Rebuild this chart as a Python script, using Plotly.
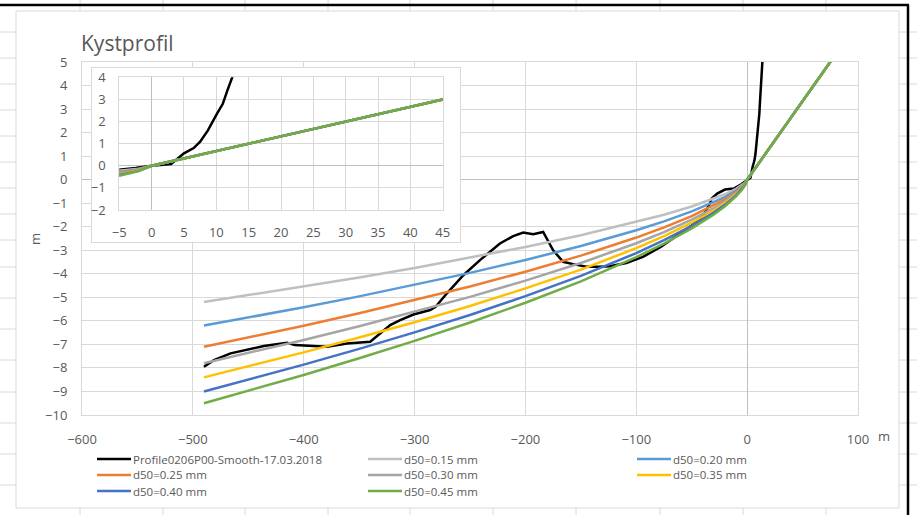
import plotly.graph_objects as go

# ---------------- data ----------------
profile_x = [-490, -481, -466, -451, -436, -415, -408, -379, -361, -340, -331, -322, -313,
             -301, -286, -281, -271, -256, -241, -232, -223, -211, -202, -193, -184, -175,
             -166, -157, -145, -133, -124, -109, -94, -78, -65, -50, -40, -34, -32, -27,
             -20, -12, -5, -2.5, 0, 3, 5, 6.5, 7.5, 8.7, 10, 11, 11.7, 12.5, 13.8, 15]
profile_y = [-7.95, -7.67, -7.38, -7.21, -7.07, -6.93, -7.03, -7.10, -6.96, -6.89, -6.55, -6.18, -5.97,
             -5.73, -5.54, -5.40, -4.84, -4.06, -3.42, -3.07, -2.71, -2.40, -2.25, -2.32, -2.22, -3.00,
             -3.49, -3.59, -3.70, -3.70, -3.68, -3.54, -3.28, -2.86, -2.45, -1.95, -1.55, -1.05, -0.80, -0.59,
             -0.42, -0.38, -0.19, -0.10, 0.00, 0.08, 0.56, 0.80, 1.09, 1.60, 2.30, 2.80, 3.40, 4.00, 5.00, 6.00]

d50_x = [-490, -450, -400, -350, -300, -250, -200, -150, -100, -75, -50, -30, -20, -10, -5, -2, 0,
         5, 10, 20, 45, 75, 100]
d50_015 = [-5.20, -4.91, -4.54, -4.16, -3.75, -3.32, -2.86, -2.36, -1.80, -1.49, -1.14, -0.81, -0.62, -0.39, -0.24, -0.13, 0,
           0.33, 0.67, 1.33, 3.00, 5.00, 6.67]
d50_020 = [-6.20, -5.86, -5.42, -4.96, -4.47, -3.96, -3.41, -2.82, -2.15, -1.77, -1.35, -0.96, -0.74, -0.46, -0.29, -0.16, 0,
           0.33, 0.67, 1.33, 3.00, 5.00, 6.67]
d50_025 = [-7.10, -6.71, -6.21, -5.68, -5.12, -4.54, -3.91, -3.23, -2.46, -2.03, -1.55, -1.10, -0.84, -0.53, -0.33, -0.18, 0,
           0.33, 0.67, 1.33, 3.00, 5.00, 6.67]
d50_030 = [-7.80, -7.37, -6.81, -6.23, -5.62, -4.98, -4.29, -3.54, -2.70, -2.23, -1.70, -1.21, -0.92, -0.58, -0.37, -0.20, 0,
           0.33, 0.67, 1.33, 3.00, 5.00, 6.67]
d50_035 = [-8.40, -7.94, -7.34, -6.71, -6.06, -5.37, -4.62, -3.82, -2.91, -2.40, -1.83, -1.30, -1.00, -0.63, -0.39, -0.21, 0,
           0.33, 0.67, 1.33, 3.00, 5.00, 6.67]
d50_040 = [-9.00, -8.50, -7.86, -7.19, -6.49, -5.75, -4.95, -4.09, -3.12, -2.57, -1.96, -1.40, -1.07, -0.67, -0.42, -0.23, 0,
           0.33, 0.67, 1.33, 3.00, 5.00, 6.67]
d50_045 = [-9.50, -8.98, -8.30, -7.59, -6.85, -6.07, -5.23, -4.32, -3.29, -2.72, -2.07, -1.48, -1.13, -0.71, -0.45, -0.24, 0,
           0.33, 0.67, 1.33, 3.00, 5.00, 6.67]

series_names = ["Profile0206P00-Smooth-17.03.2018", "d50=0.15 mm", "d50=0.20 mm", "d50=0.25 mm",
                "d50=0.30 mm", "d50=0.35 mm", "d50=0.40 mm", "d50=0.45 mm"]
series_colors = ["#000000", "#BFBFBF", "#5B9BD5", "#ED7D31", "#A5A5A5", "#FFC000", "#4472C4", "#70AD47"]
series_x = [profile_x] + [d50_x] * 7
series_y = [profile_y, d50_015, d50_020, d50_025, d50_030, d50_035, d50_040, d50_045]

title_text = "Kystprofil"
axis_unit = "m"

# ---------------- layout helpers ----------------
W, H = 917, 515
ML, MR, MT, MB = 82, 59, 62, 100
PW, PH = W - ML - MR, H - MT - MB
FONT = "Open Sans, sans-serif"
TXT = "#595959"
GRID = "#d9d9d9"


def px(x):
    return (x - ML) / PW


def py(y):
    return (H - MB - y) / PH


fig = go.Figure()

for name, color, xs, ys in zip(series_names, series_colors, series_x, series_y):
    fig.add_trace(go.Scatter(x=xs, y=ys, mode="lines", name=name, showlegend=False,
                             line=dict(color=color, width=2.5), xaxis="x", yaxis="y"))
# inset frame subplot (empty)
fig.add_trace(go.Scatter(x=[], y=[], xaxis="x2", yaxis="y2", showlegend=False))
for name, color, xs, ys in zip(series_names, series_colors, series_x, series_y):
    fig.add_trace(go.Scatter(x=xs, y=ys, mode="lines", name=name, showlegend=False,
                             line=dict(color=color, width=2.5), xaxis="x3", yaxis="y3"))

tickfont = dict(family=FONT, size=13, color=TXT)
common = dict(showgrid=True, gridcolor=GRID, gridwidth=1, zeroline=True, zerolinecolor="#bfbfbf",
              zerolinewidth=1, showline=True, mirror=True, linecolor=GRID, linewidth=1,
              ticks="", tickfont=tickfont, fixedrange=True)

shapes = []
# spreadsheet grid
for gx in [80, 163, 245, 328, 410, 493, 576, 660, 743, 826]:
    shapes.append(dict(type="line", xref="paper", yref="paper", x0=px(gx), x1=px(gx), y0=py(0), y1=py(H),
                       line=dict(color="#dadada", width=1), layer="below"))
for gy in [32, 58, 84, 110, 136, 162, 188, 214, 240, 267, 298, 329, 360, 392, 423, 454, 485]:
    shapes.append(dict(type="line", xref="paper", yref="paper", x0=px(0), x1=px(W), y0=py(gy), y1=py(gy),
                       line=dict(color="#dadada", width=1), layer="below"))
# chart area
shapes.append(dict(type="rect", xref="paper", yref="paper", x0=px(16), x1=px(899), y0=py(508), y1=py(11),
                   fillcolor="white", line=dict(color=GRID, width=1), layer="below"))
# black selection borders
shapes.append(dict(type="line", xref="paper", yref="paper", x0=px(0), x1=px(909), y0=py(5), y1=py(5),
                   line=dict(color="black", width=2.5), layer="above"))
shapes.append(dict(type="line", xref="paper", yref="paper", x0=px(908), x1=px(908), y0=py(5), y1=py(H),
                   line=dict(color="black", width=2.5), layer="above"))

annotations = [
    dict(text=title_text, xref="paper", yref="paper", x=px(79), y=py(43), xanchor="left", yanchor="middle",
         showarrow=False, font=dict(family=FONT, size=21, color=TXT)),
    dict(text=axis_unit, xref="paper", yref="paper", x=px(35), y=py(239), xanchor="center", yanchor="middle",
         textangle=-90, showarrow=False, font=dict(family=FONT, size=13, color=TXT)),
    dict(text=axis_unit, xref="paper", yref="paper", x=px(884), y=py(436), xanchor="center", yanchor="middle",
         showarrow=False, font=dict(family=FONT, size=13, color=TXT)),
]

# manual legend (3 columns)
leg_cols = [97, 368, 637]
leg_rows = [459, 475, 491]
for i, (name, color) in enumerate(zip(series_names, series_colors)):
    cx = leg_cols[i % 3]
    ry = leg_rows[i // 3]
    shapes.append(dict(type="line", xref="paper", yref="paper", x0=px(cx), x1=px(cx + 34), y0=py(ry), y1=py(ry),
                       line=dict(color=color, width=2.5), layer="above"))
    annotations.append(dict(text=name, xref="paper", yref="paper", x=px(cx + 35), y=py(ry), xanchor="left",
                            yanchor="middle", showarrow=False, borderpad=0,
                            font=dict(family=FONT, size=11.5, color=TXT)))

fig.update_layout(
    width=W, height=H, autosize=False,
    margin=dict(l=ML, r=MR, t=MT, b=MB, pad=0),
    paper_bgcolor="white", plot_bgcolor="white",
    showlegend=False,
    xaxis=dict(range=[-600, 100], dtick=100, tick0=0, domain=[0, 1], anchor="y", ticklabelstandoff=12, **common),
    yaxis=dict(range=[-10, 5], dtick=1, tick0=0, domain=[0, 1], anchor="x", ticklabelstandoff=11, **common),
    xaxis2=dict(range=[0, 1], domain=[px(91.7), px(460)], anchor="y2", showgrid=False, zeroline=False,
                showticklabels=False, showline=True, mirror=True, linecolor=GRID, ticks="", fixedrange=True),
    yaxis2=dict(range=[0, 1], domain=[py(241.7), py(68)], anchor="x2", showgrid=False, zeroline=False,
                showticklabels=False, showline=True, mirror=True, linecolor=GRID, ticks="", fixedrange=True),
    xaxis3=dict(range=[-5, 45], dtick=5, tick0=0, domain=[px(119.3), px(442.7)], anchor="y3",
                ticklabelstandoff=10, **common),
    yaxis3=dict(range=[-2, 4], dtick=1, tick0=0, domain=[py(210), py(77.3)], anchor="x3",
                ticklabelstandoff=10, **common),
    shapes=shapes,
    annotations=annotations,
)

fig.write_html("out.html", config={"displayModeBar": False},
               post_script="document.body.style.margin='0';document.body.style.overflow='hidden';")
